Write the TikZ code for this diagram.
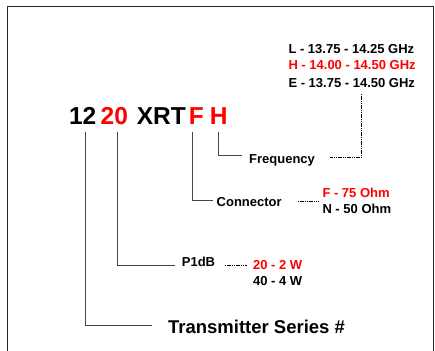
\documentclass[tikz,border=0pt]{standalone}
\usepackage{fontspec}
\setmainfont{Liberation Sans}
\usetikzlibrary{positioning}
\definecolor{codered}{RGB}{255, 0, 0}
\definecolor{stemgray}{RGB}{70, 70, 70}

\tikzset{
    codepart/.style={font=\fontsize{24.5}{28}\selectfont\bfseries, inner sep=0pt, anchor=base},
    fieldname/.style={font=\fontsize{13}{15}\selectfont\bfseries, inner sep=0pt, anchor=base west},
    choice/.style={font=\fontsize{13}{15}\selectfont\bfseries, inner sep=0pt, anchor=base west},
    stem/.style={draw=stemgray, line width=1pt},
    leader/.style={draw=black, line width=0.7pt, dash pattern=on 1.2pt off 0.6pt}
}

\begin{document}
\begin{tikzpicture}[x=1pt, y=-1pt]
                \useasboundingbox (0, 0) rectangle (435, 350);
                \draw[black!85, line width=1pt] (7, 352) -- (7, 7) -- (433, 7) -- (433, 352);

                % model code
                \node[codepart] (n12) at (82.7, 124.3) {12};
                \node[codepart, text=codered] (n20) at (114.3, 124.3) {20};
                \node[codepart] (nXRT) at (161.3, 124.3) {XRT};
                \node[codepart, text=codered] (nF) at (196.3, 124.3) {F};
                \node[codepart, text=codered] (nH) at (218.8, 124.3) {H};

                % field names
                \node[fieldname] (nFreq) at (249, 163.3) {Frequency};
                \node[fieldname] (nConn) at (216.5, 206.3) {Connector};
                \node[fieldname] (nPower) at (181.7, 266) {P1dB};
                \node[fieldname, font=\fontsize{18.5}{21}\selectfont\bfseries]
                    (nSeries) at (167.9, 333.3) {Transmitter Series \#};

                % choices
                \node[choice] (nBandL) at (288.3, 53.3) {L - 13.75 - 14.25 GHz};
                \node[choice, text=codered] (nBandH) at (288.3, 70) {H - 14.00 - 14.50 GHz};
                \node[choice] (nBandE) at (288.3, 87.3) {E - 13.75 - 14.50 GHz};
                \node[choice, text=codered] (nConnF) at (322.3, 197.3) {F - 75 Ohm};
                \node[choice] (nConnN) at (322.3, 213.3) {N - 50 Ohm};
                \node[choice, text=codered] (nPow20) at (252.9, 269.3) {20 - 2 W};
                \node[choice] (nPow40) at (252.9, 285.7) {40 - 4 W};

                % stems
                \draw[stem] ([yshift=-7.4pt]nH.south) |- ([xshift=-7.3pt, yshift=7.6pt]nFreq.base west);
                \draw[stem] ([xshift=-3.6pt, yshift=-7.4pt]nF.south) |- ([xshift=-3.2pt, yshift=6.3pt]nConn.base west);
                \draw[stem] ([xshift=3.4pt, yshift=-7.4pt]n20.south) |- ([xshift=-6.7pt, yshift=0.7pt]nPower.base west);
                \draw[stem] ([xshift=3pt, yshift=-7.4pt]n12.south) |- ([xshift=-16.2pt, yshift=8.3pt]nSeries.base west);

                % leaders
                \coordinate (cFreqDots) at ([xshift=15.3pt, yshift=6pt]nFreq.base east);
                \coordinate (cConnDots) at ([xshift=15.8pt, yshift=4.8pt]nConn.base east);
                \coordinate (cPowerDots) at ([xshift=9.4pt, yshift=0.3pt]nPower.base east);
                \draw[leader] (cFreqDots) -| ([xshift=73.4pt, yshift=-6pt]nBandE.base west);
                \draw[leader, shorten >=3.3pt] (cConnDots) -- (cConnDots -| nConnF.west);
                \draw[leader, shorten >=6.2pt] (cPowerDots) -- (cPowerDots -| nPow20.west);
            \end{tikzpicture}
\end{document}
